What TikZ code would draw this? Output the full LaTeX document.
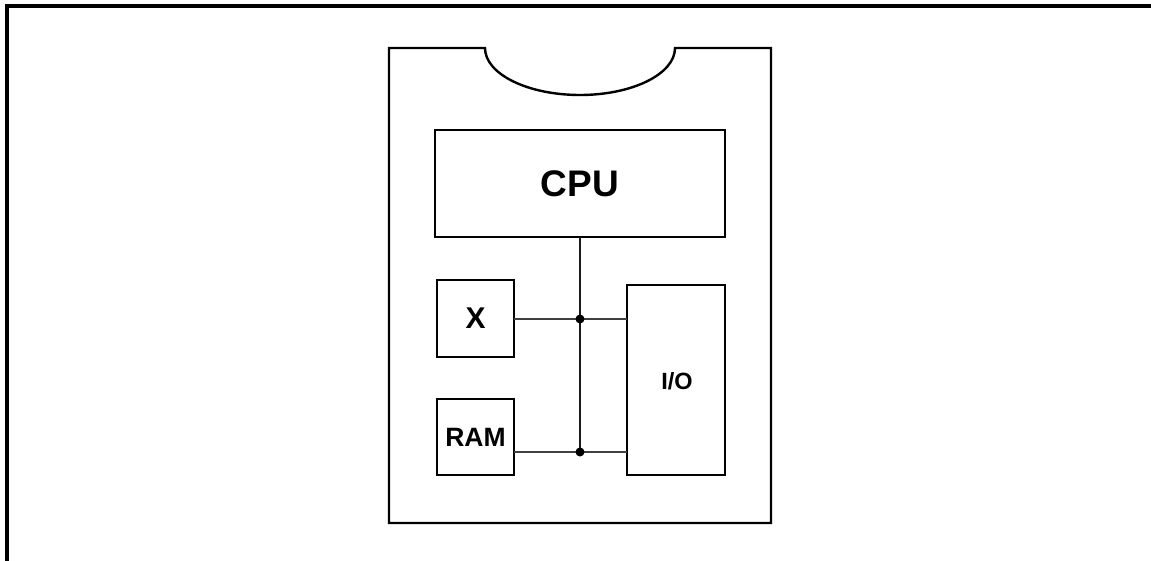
\documentclass[tikz,border=0pt]{standalone}
\usepackage{fontspec}
\setmainfont{Liberation Sans}
\begin{document}
\begin{tikzpicture}[x=1pt,y=-1pt,
  blk/.style={draw=black,line width=2.4pt,fill=white,inner sep=0pt,outer sep=0pt,font=\bfseries},
  wire/.style={draw=black!75,line width=1.5pt},
  jdot/.style={circle,fill=black,inner sep=0pt,minimum size=9pt}]
\useasboundingbox (0,0) rectangle (1151,561);
% outer frame
\draw[line width=4.5pt] (7,561) -- (7,6) -- (1151,6);
% card
\draw[line width=2.4pt,line join=miter] (389,48) -- (485,48)
  arc[start angle=180,end angle=0,x radius=95,y radius=47] -- (771,48) -- (771,523) -- (389,523) -- cycle;
% blocks
\node[blk,minimum width=290pt,minimum height=107pt,font=\bfseries\fontsize{37}{40}\selectfont] (cpu) at (580,183.5) {CPU};
\node[blk,minimum width=77pt,minimum height=77pt,font=\bfseries\fontsize{30}{34}\selectfont] (x) at (475.5,318.5) {X};
\node[blk,minimum width=77pt,minimum height=76pt,font=\bfseries\fontsize{26.5}{30}\selectfont] (ram) at (475.5,437) {RAM};
\node[blk,minimum width=98pt,minimum height=190pt] (io) at (676,380) {};
\node[font=\bfseries\fontsize{23.5}{26}\selectfont] (iolabel) at (677,381) {I/O};
% bus
\coordinate (j1) at (580,319);
\coordinate (j2) at (580,452);
\draw[wire,black!90] (cpu.south) -- (j2);
\draw[wire] (x.east |- j1) -- (j1) -- (io.west |- j1);
\draw[wire] (ram.east |- j2) -- (j2) -- (io.west |- j2);
\node[jdot] (d1) at (j1) {};
\node[jdot] (d2) at (j2) {};
\end{tikzpicture}
\end{document}
